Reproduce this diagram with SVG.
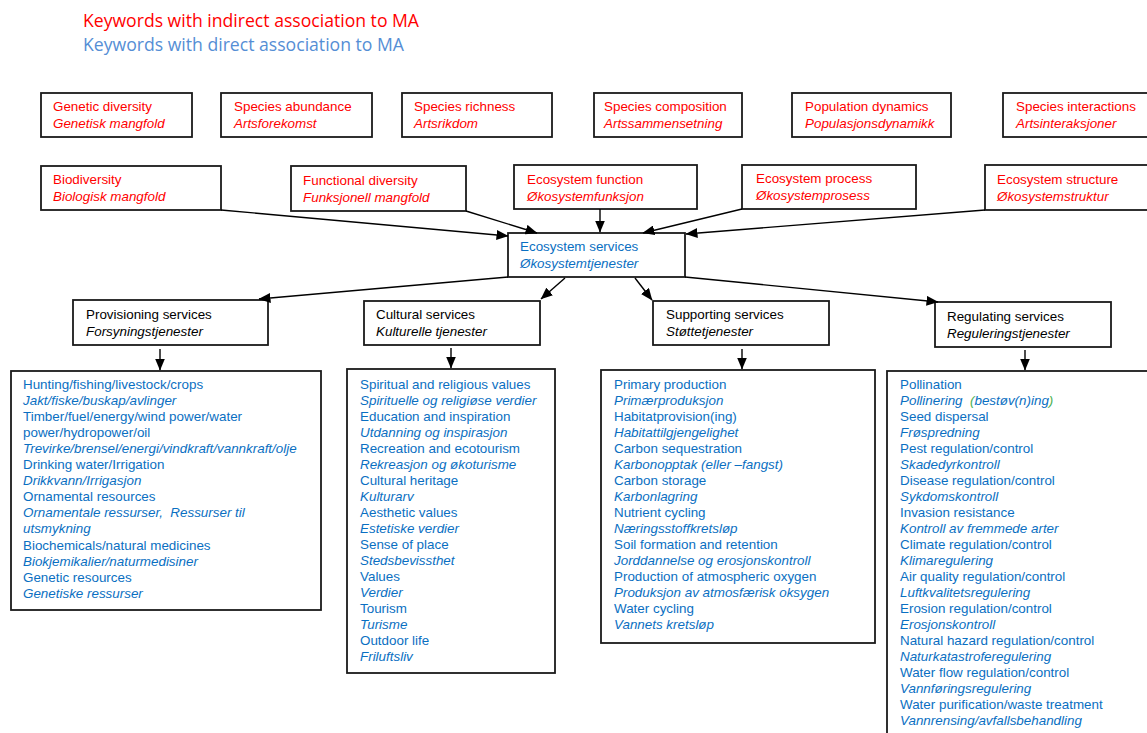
<svg xmlns="http://www.w3.org/2000/svg" width="1147" height="733" viewBox="0 0 1147 733">
<defs>
<style>
.box{fill:#fff;stroke:#1a1a1a;stroke-width:1.8}
.t{font-family:"Liberation Sans",Arial,sans-serif;font-size:13.4px}
.r{fill:#ff0000}
.b{fill:#0a6fc2}
.k{fill:#000}
.i{font-style:italic}
.leg{font-family:"Open Sans","Liberation Sans",sans-serif;font-size:18.5px}
.c{stroke:#000;stroke-width:1.4;fill:none;marker-end:url(#ah)}
</style>
<marker id="ah" markerWidth="12" markerHeight="10" refX="11.5" refY="5" orient="auto" markerUnits="userSpaceOnUse"><path d="M0,0 L12,5 L0,10 z" fill="#000"/></marker>
</defs>
<rect width="1147" height="733" fill="#fff"/>
<g id="legend">
<text class="leg" x="83" y="27" fill="#ff0000" textLength="336" lengthAdjust="spacingAndGlyphs">Keywords with indirect association to MA</text>
<text class="leg" x="83" y="51" fill="#558ed5" textLength="321" lengthAdjust="spacingAndGlyphs">Keywords with direct association to MA</text>
</g>
<g id="genetic-diversity"><rect class="box" x="41" y="93" width="151" height="44"/><text class="t r" x="53" y="111">Genetic diversity</text><text class="t r i" x="53" y="128">Genetisk mangfold</text></g>
<g id="species-abundance"><rect class="box" x="221" y="93" width="151" height="44"/><text class="t r" x="234" y="111">Species abundance</text><text class="t r i" x="234" y="128">Artsforekomst</text></g>
<g id="species-richness"><rect class="box" x="402" y="93" width="150" height="44"/><text class="t r" x="414" y="111">Species richness</text><text class="t r i" x="414" y="128">Artsrikdom</text></g>
<g id="species-composition"><rect class="box" x="594" y="93" width="148" height="44"/><text class="t r" x="604" y="111">Species composition</text><text class="t r i" x="604" y="128">Artssammensetning</text></g>
<g id="population-dynamics"><rect class="box" x="792" y="93" width="159" height="44"/><text class="t r" x="805" y="111">Population dynamics</text><text class="t r i" x="805" y="128">Populasjonsdynamikk</text></g>
<g id="species-interactions"><rect class="box" x="1003" y="93" width="160" height="44"/><text class="t r" x="1016" y="111">Species interactions</text><text class="t r i" x="1016" y="128">Artsinteraksjoner</text></g>
<g id="biodiversity"><rect class="box" x="41" y="166" width="180" height="44"/><text class="t r" x="53" y="184">Biodiversity</text><text class="t r i" x="53" y="201">Biologisk mangfold</text></g>
<g id="functional-diversity"><rect class="box" x="291" y="166" width="175" height="45"/><text class="t r" x="303" y="185">Functional diversity</text><text class="t r i" x="303" y="202">Funksjonell mangfold</text></g>
<g id="ecosystem-function"><rect class="box" x="514" y="165" width="183" height="44"/><text class="t r" x="527" y="184">Ecosystem function</text><text class="t r i" x="527" y="201">Økosystemfunksjon</text></g>
<g id="ecosystem-process"><rect class="box" x="742" y="165" width="174" height="44"/><text class="t r" x="756" y="183">Ecosystem process</text><text class="t r i" x="756" y="200">Økosystemprosess</text></g>
<g id="ecosystem-structure"><rect class="box" x="985" y="165" width="180" height="45"/><text class="t r" x="997" y="184">Ecosystem structure</text><text class="t r i" x="997" y="201">Økosystemstruktur</text></g>
<g id="ecosystem-services"><rect class="box" x="508" y="233" width="177" height="44"/><text class="t b" x="520" y="251">Ecosystem services</text><text class="t b i" x="520" y="268">Økosystemtjenester</text></g>
<g id="provisioning-services"><rect class="box" x="73" y="300" width="195" height="45"/><text class="t k" x="86" y="319">Provisioning services</text><text class="t k i" x="86" y="336">Forsyningstjenester</text></g>
<g id="cultural-services"><rect class="box" x="364" y="301" width="176" height="44"/><text class="t k" x="376" y="319">Cultural services</text><text class="t k i" x="376" y="336">Kulturelle tjenester</text></g>
<g id="supporting-services"><rect class="box" x="653" y="301" width="176" height="44"/><text class="t k" x="666" y="319">Supporting services</text><text class="t k i" x="666" y="336">Støttetjenester</text></g>
<g id="regulating-services"><rect class="box" x="935" y="302" width="176" height="45"/><text class="t k" x="947" y="321">Regulating services</text><text class="t k i" x="947" y="338">Reguleringstjenester</text></g>
<g id="provisioning-list"><rect class="box" x="11" y="371" width="310" height="239"/>
<text class="t b" x="23" y="389">Hunting/fishing/livestock/crops</text>
<text class="t b i" x="23" y="405">Jakt/fiske/buskap/avlinger</text>
<text class="t b" x="23" y="421">Timber/fuel/energy/wind power/water</text>
<text class="t b" x="23" y="437">power/hydropower/oil</text>
<text class="t b i" x="23" y="453">Trevirke/brensel/energi/vindkraft/vannkraft/olje</text>
<text class="t b" x="23" y="469">Drinking water/Irrigation</text>
<text class="t b i" x="23" y="485">Drikkvann/Irrigasjon</text>
<text class="t b" x="23" y="501">Ornamental resources</text>
<text class="t b i" x="23" y="517" xml:space="preserve">Ornamentale ressurser,  Ressurser til</text>
<text class="t b i" x="23" y="533">utsmykning</text>
<text class="t b" x="23" y="550">Biochemicals/natural medicines</text>
<text class="t b i" x="23" y="566">Biokjemikalier/naturmedisiner</text>
<text class="t b" x="23" y="582">Genetic resources</text>
<text class="t b i" x="23" y="598">Genetiske ressurser</text>
</g>
<g id="cultural-list"><rect class="box" x="347" y="369" width="208" height="304"/>
<text class="t b" x="360" y="389">Spiritual and religious values</text>
<text class="t b i" x="360" y="405">Spirituelle og religiøse verdier</text>
<text class="t b" x="360" y="421">Education and inspiration</text>
<text class="t b i" x="360" y="437">Utdanning og inspirasjon</text>
<text class="t b" x="360" y="453">Recreation and ecotourism</text>
<text class="t b i" x="360" y="469">Rekreasjon og økoturisme</text>
<text class="t b" x="360" y="485">Cultural heritage</text>
<text class="t b i" x="360" y="501">Kulturarv</text>
<text class="t b" x="360" y="517">Aesthetic values</text>
<text class="t b i" x="360" y="533">Estetiske verdier</text>
<text class="t b" x="360" y="549">Sense of place</text>
<text class="t b i" x="360" y="565">Stedsbevissthet</text>
<text class="t b" x="360" y="581">Values</text>
<text class="t b i" x="360" y="597">Verdier</text>
<text class="t b" x="360" y="613">Tourism</text>
<text class="t b i" x="360" y="629">Turisme</text>
<text class="t b" x="360" y="645">Outdoor life</text>
<text class="t b i" x="360" y="661">Friluftsliv</text>
</g>
<g id="supporting-list"><rect class="box" x="601" y="370" width="274" height="273"/>
<text class="t b" x="614" y="389">Primary production</text>
<text class="t b i" x="614" y="405">Primærproduksjon</text>
<text class="t b" x="614" y="421">Habitatprovision(ing)</text>
<text class="t b i" x="614" y="437">Habitattilgjengelighet</text>
<text class="t b" x="614" y="453">Carbon sequestration</text>
<text class="t b i" x="614" y="469">Karbonopptak (eller –fangst)</text>
<text class="t b" x="614" y="485">Carbon storage</text>
<text class="t b i" x="614" y="501">Karbonlagring</text>
<text class="t b" x="614" y="517">Nutrient cycling</text>
<text class="t b i" x="614" y="533">Næringsstoffkretsløp</text>
<text class="t b" x="614" y="549">Soil formation and retention</text>
<text class="t b i" x="614" y="565">Jorddannelse og erosjonskontroll</text>
<text class="t b" x="614" y="581">Production of atmospheric oxygen</text>
<text class="t b i" x="614" y="597">Produksjon av atmosfærisk oksygen</text>
<text class="t b" x="614" y="613">Water cycling</text>
<text class="t b i" x="614" y="629">Vannets kretsløp</text>
</g>
<g id="regulating-list"><rect class="box" x="887" y="371" width="280" height="380"/>
<text class="t b" x="900" y="389">Pollination</text>
<text class="t b i" x="900" y="405" xml:space="preserve">Pollinering  <tspan fill="#4caf50">(</tspan>bestøv(n)ing<tspan fill="#4caf50">)</tspan></text>
<text class="t b" x="900" y="421">Seed dispersal</text>
<text class="t b i" x="900" y="437">Frøspredning</text>
<text class="t b" x="900" y="453">Pest regulation/control</text>
<text class="t b i" x="900" y="469">Skadedyrkontroll</text>
<text class="t b" x="900" y="485">Disease regulation/control</text>
<text class="t b i" x="900" y="501">Sykdomskontroll</text>
<text class="t b" x="900" y="517">Invasion resistance</text>
<text class="t b i" x="900" y="533">Kontroll av fremmede arter</text>
<text class="t b" x="900" y="549">Climate regulation/control</text>
<text class="t b i" x="900" y="565">Klimaregulering</text>
<text class="t b" x="900" y="581">Air quality regulation/control</text>
<text class="t b i" x="900" y="597">Luftkvalitetsregulering</text>
<text class="t b" x="900" y="613">Erosion regulation/control</text>
<text class="t b i" x="900" y="629">Erosjonskontroll</text>
<text class="t b" x="900" y="645">Natural hazard regulation/control</text>
<text class="t b i" x="900" y="661">Naturkatastroferegulering</text>
<text class="t b" x="900" y="677">Water flow regulation/control</text>
<text class="t b i" x="900" y="693">Vannføringsregulering</text>
<text class="t b" x="900" y="709">Water purification/waste treatment</text>
<text class="t b i" x="900" y="725">Vannrensing/avfallsbehandling</text>
</g>
<g id="connectors">
<line class="c" x1="221" y1="210" x2="508" y2="236"/>
<line class="c" x1="466" y1="211" x2="537" y2="233"/>
<line class="c" x1="600" y1="209" x2="600" y2="232"/>
<line class="c" x1="742" y1="209" x2="643" y2="233"/>
<line class="c" x1="985" y1="210" x2="686" y2="234"/>
<line class="c" x1="508" y1="277" x2="259" y2="299"/>
<line class="c" x1="565" y1="278" x2="541" y2="299"/>
<line class="c" x1="635" y1="278" x2="652" y2="300"/>
<line class="c" x1="685" y1="277" x2="938" y2="302"/>
<line class="c" x1="160" y1="349" x2="160" y2="370"/>
<line class="c" x1="451" y1="348" x2="451" y2="368"/>
<line class="c" x1="742" y1="349" x2="742" y2="369"/>
<line class="c" x1="1025" y1="350" x2="1025" y2="370"/>
</g>
</svg>
